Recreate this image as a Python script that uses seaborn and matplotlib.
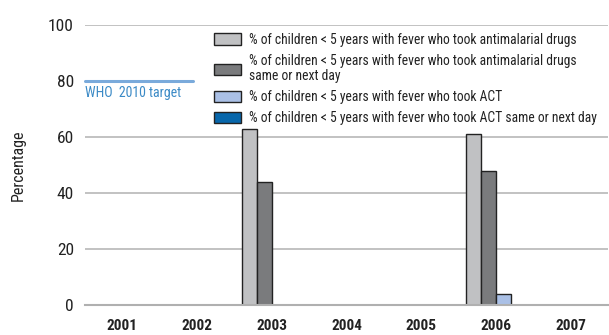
import matplotlib
matplotlib.use("Agg")
import matplotlib.pyplot as plt
from matplotlib.patches import Patch
import numpy as np
import pandas as pd
import seaborn as sns

years = ["2001", "2002", "2003", "2004", "2005", "2006", "2007"]
series = [
    "% of children < 5 years with fever who took antimalarial drugs",
    "% of children < 5 years with fever who took antimalarial drugs\nsame or next day",
    "% of children < 5 years with fever who took ACT",
    "% of children < 5 years with fever who took ACT same or next day",
]
antimalarial = [np.nan, np.nan, 63, np.nan, np.nan, 61, np.nan]
antimalarial_same_day = [np.nan, np.nan, 44, np.nan, np.nan, 48, np.nan]
act = [np.nan, np.nan, np.nan, np.nan, np.nan, 4, np.nan]
act_same_day = [np.nan] * 7
who_target = 80

colors = ["#c0c1c3", "#7a7b7d", "#aac0e6", "#0867ab"]

sns.set_style("white")
plt.rcParams["font.family"] = ["Roboto Condensed", "DejaVu Sans"]

df = pd.DataFrame({"Year": years})
for name, vals in zip(series, [antimalarial, antimalarial_same_day, act, act_same_day]):
    df[name] = vals
long_df = df.melt(id_vars="Year", var_name="Indicator", value_name="Percentage").dropna()

fig = plt.figure(figsize=(6.09, 3.35), dpi=100)
ax = fig.add_axes([85 / 609, 30 / 335, 523 / 609, 280 / 335])

sns.barplot(data=long_df, x="Year", y="Percentage", hue="Indicator",
            order=years, hue_order=series, palette=colors, width=0.8,
            edgecolor="#222222", linewidth=1, saturation=1, legend=False, ax=ax)

ax.set_xlim(-0.5, 6.5)
ax.set_ylim(0, 100)
ax.set_yticks([0, 20, 40, 60, 80, 100])
ax.yaxis.grid(True, color="#bdbdbd", linewidth=1.3)
ax.set_axisbelow(True)
# the 80 gridline is hidden behind the target marker / legend in the original
ax.get_ygridlines()[4].set_visible(False)
for s in ["top", "right", "left"]:
    ax.spines[s].set_visible(False)
ax.spines["bottom"].set_color("#b0b0b0")
ax.spines["bottom"].set_linewidth(1.5)
ax.tick_params(axis="y", length=0, labelsize=12.5, pad=8, labelcolor="#222222")
ax.tick_params(axis="x", which="major", length=0, labelsize=11, pad=10, labelcolor="#222222")
ax.set_xticks(np.arange(-0.5, 6.5, 1), minor=True)
ax.tick_params(axis="x", which="minor", length=15, width=1.5, color="#b0b0b0")
for lab in ax.get_xticklabels():
    lab.set_fontweight("bold")
ax.set_xlabel("")
ax.set_ylabel("Percentage", fontsize=11.5, labelpad=16, color="#222222")

# WHO target marker
tr = ax.get_yaxis_transform()
ax.plot([0, 0.207], [who_target, who_target], color="#7aaadb",
        linewidth=2.2, transform=tr, clip_on=False, zorder=5)
ax.text(0.0, who_target - 4.3, "WHO  2010 target", color="#3b8ac6",
        fontsize=10, va="center", ha="left", transform=tr)

handles = [Patch(facecolor=c, edgecolor="#222222", linewidth=1) for c in colors]
leg = ax.legend(handles, series, loc="upper left", bbox_to_anchor=(214 / 609, 1 - 33 / 335),
                bbox_transform=fig.transFigure, frameon=False, fontsize=9.8,
                handlelength=2.0, handleheight=0.95, handletextpad=0.6,
                labelspacing=0.5, borderpad=0, borderaxespad=0)
for t in leg.get_texts():
    t.set_color("#222222")
    t.set_linespacing(1.15)

fig.savefig("out.png", dpi=100)
